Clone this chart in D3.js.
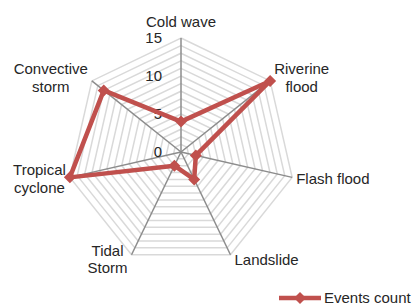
<!DOCTYPE html>
<html>
<head>
<meta charset="utf-8">
<script src="https://cdn.jsdelivr.net/npm/d3@7"></script>
<style>
  body { margin: 0; background: #fff; }
  svg { display: block; font-family: "Liberation Sans", Arial, sans-serif; }
  .lbl { font-size: 15px; fill: #262626; }
</style>
</head>
<body>
<div id="chart"></div>
<script>
// chart values
var categories = ["Cold wave", "Riverine flood", "Flash flood", "Landslide", "Tidal Storm", "Tropical cyclone", "Convective storm"];
var labelLines = [["Cold wave"], ["Riverine", "flood"], ["Flash flood"], ["Landslide"], ["Tidal", "Storm"], ["Tropical", "cyclone"], ["Convective", "storm"]];
var eventsCount = [4, 15, 2, 4, 2, 15, 13];
var tickValues = [0, 5, 10, 15];
var seriesName = "Events count";

var W = 417, H = 306, cx = 181, cy = 152, R = 114, red = "#c0504d";

var svg = d3.select("#chart").append("svg").attr("width", W).attr("height", H);
var g = svg.append("g").attr("transform", "translate(" + cx + "," + cy + ")");

var rSc = d3.scaleLinear().domain([0, 15]).range([0, R]);
var aSc = d3.scalePoint().domain(categories).range([0, 2 * Math.PI * (categories.length - 1) / categories.length]);

function pt(cat, v) {
	var a = aSc(cat), r = rSc(v);
	return [r * Math.sin(a), -r * Math.cos(a)];
}

// grid rings, one per unit
var ring = d3.lineRadial().angle(function(d) { return aSc(d.c); }).radius(function(d) { return rSc(d.v); }).curve(d3.curveLinearClosed);
g.append("g").selectAll("path").data(d3.range(1, 16)).enter().append("path")
	.attr("d", function(v) { return ring(categories.map(function(c) { return { c: c, v: v }; })); })
	.attr("fill", "none").attr("stroke", "#d9d9d9").attr("stroke-width", 1.5);

// spokes
g.append("g").selectAll("line").data(categories).enter().append("line")
	.attr("x1", 0).attr("y1", 0)
	.attr("x2", function(c) { return pt(c, 15)[0]; })
	.attr("y2", function(c) { return pt(c, 15)[1]; })
	.attr("stroke", "#8c8c8c").attr("stroke-width", 1.5);

// tick labels
g.append("g").selectAll("text").data(tickValues).enter().append("text")
	.attr("class", "lbl").attr("text-anchor", "end")
	.attr("x", -19).attr("y", function(v) { return -rSc(v); }).attr("dy", "0.36em")
	.text(function(v) { return v; });

// category labels
var lh = 17.5;
categories.forEach(function(c, i) {
	var a = aSc(c), sx = Math.sin(a), cyy = Math.cos(a);
	var e = pt(c, 15), lines = labelLines[i];
	var t = g.append("text").attr("class", "lbl").attr("text-anchor", "middle");
	lines.forEach(function(s) { t.append("tspan").text(s); });
	var maxW = 0;
	t.selectAll("tspan").each(function() { maxW = Math.max(maxW, this.getComputedTextLength()); });
	var bh = lines.length * lh, x, yc;
	if (Math.abs(sx) < 0.1) { x = e[0]; yc = e[1] - cyy * (bh / 2 + 8); }
	else { x = sx > 0 ? e[0] + 4 + maxW / 2 : e[0] - 4 - maxW / 2; yc = e[1] - cyy * 5; }
	var y0 = yc - bh / 2 + lh / 2;
	t.selectAll("tspan").attr("x", x).attr("y", function(d, j) { return y0 + j * lh; }).attr("dy", "0.36em");
});

// series
var sData = categories.map(function(c, i) { return { c: c, v: eventsCount[i] }; });
g.append("path").attr("d", ring(sData))
	.attr("fill", "none").attr("stroke", red).attr("stroke-width", 4.5).attr("stroke-linejoin", "round");
var diamond = d3.symbol().type(d3.symbolSquare).size(72);
g.append("g").selectAll("path").data(sData).enter().append("path")
	.attr("d", diamond)
	.attr("transform", function(d) { var p = pt(d.c, d.v); return "translate(" + p[0] + "," + p[1] + ") rotate(45)"; })
	.attr("fill", red);

// legend
var leg = svg.append("g").attr("transform", "translate(279,298)");
leg.append("line").attr("x1", 0).attr("x2", 42).attr("y1", 0).attr("y2", 0).attr("stroke", red).attr("stroke-width", 4.5);
leg.append("path").attr("d", diamond).attr("transform", "translate(21,0) rotate(45)").attr("fill", red);
leg.append("text").attr("class", "lbl").attr("x", 45).attr("dy", "0.36em").text(seriesName);
</script>
</body>
</html>
